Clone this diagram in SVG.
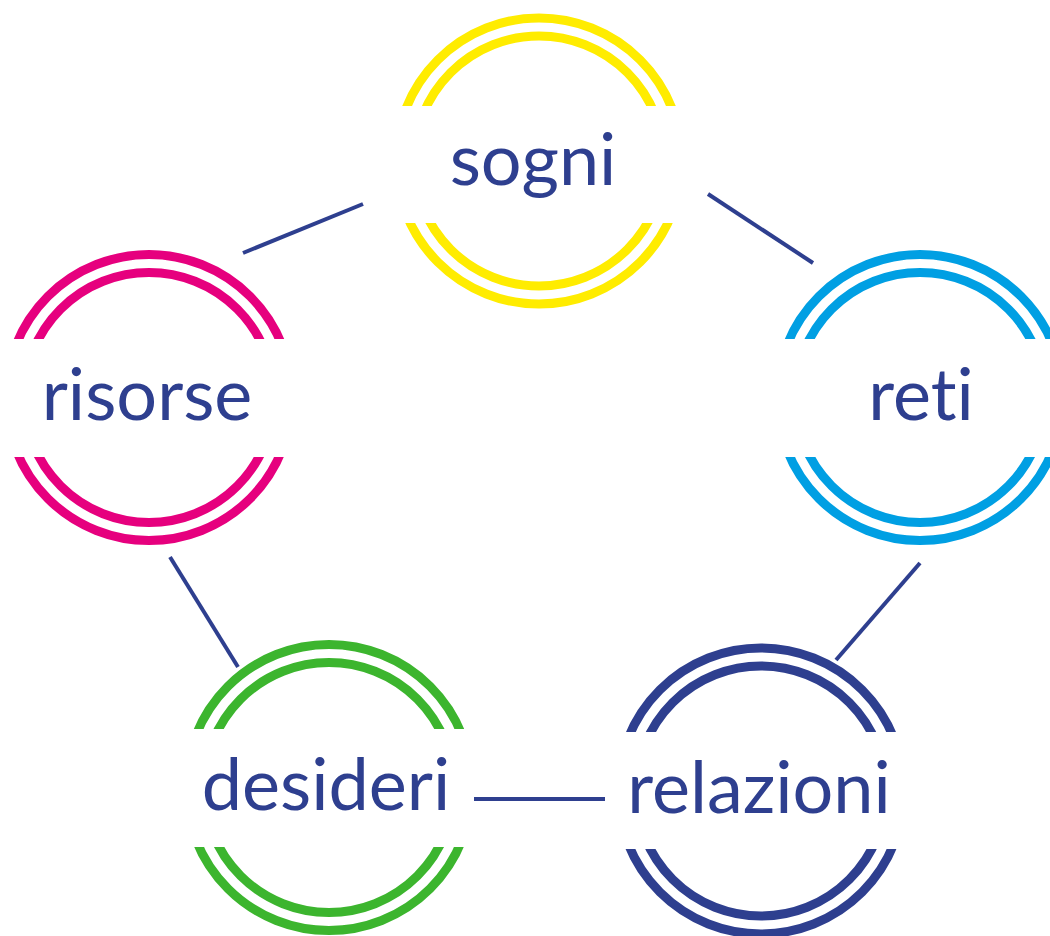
<svg xmlns="http://www.w3.org/2000/svg" width="1050" height="936" viewBox="0 0 1050 936">
<style>
.ring{fill:none;stroke-width:9}
.cut{fill:#ffffff}
.lbl{font-family:Lato,"Liberation Sans",sans-serif;font-size:72px;fill:#2e3f8f;text-anchor:middle;font-variant-ligatures:none;font-feature-settings:"liga" 0}
.conn line{stroke:#2e3f8f;stroke-width:4;stroke-linecap:butt}
</style>
<rect width="1050" height="936" fill="#ffffff"/>
<g id="sogni">
<circle class="ring" cx="539" cy="161" r="143" stroke="#ffec00"/>
<circle class="ring" cx="539" cy="161" r="125" stroke="#ffec00"/>
<rect class="cut" x="385" y="106" width="308" height="117"/>
<text class="lbl" x="533" y="185">sogni</text>
</g>
<g id="risorse">
<circle class="ring" cx="149" cy="397.5" r="143" stroke="#e6007e"/>
<circle class="ring" cx="149" cy="397.5" r="125" stroke="#e6007e"/>
<rect class="cut" x="0" y="339" width="300" height="118"/>
<text class="lbl" x="147" y="420">risorse</text>
</g>
<g id="reti">
<circle class="ring" cx="920" cy="397.5" r="143" stroke="#009fe3"/>
<circle class="ring" cx="920" cy="397.5" r="125" stroke="#009fe3"/>
<rect class="cut" x="770" y="339" width="280" height="118"/>
<text class="lbl" x="921" y="420">reti</text>
</g>
<g id="desideri">
<circle class="ring" cx="329" cy="787.5" r="143" stroke="#3cb52e"/>
<circle class="ring" cx="329" cy="787.5" r="125" stroke="#3cb52e"/>
<rect class="cut" x="179" y="729" width="300" height="118"/>
<text class="lbl" x="326" y="810">desideri</text>
</g>
<g id="relazioni">
<circle class="ring" cx="761" cy="791" r="143" stroke="#2e3f8f"/>
<circle class="ring" cx="761" cy="791" r="125" stroke="#2e3f8f"/>
<rect class="cut" x="611" y="732" width="300" height="117"/>
<text class="lbl" x="759" y="813">relazioni</text>
</g>
<g id="connectors" class="conn">
<line x1="243" y1="253" x2="363" y2="204"/>
<line x1="708" y1="194" x2="813" y2="263"/>
<line x1="170" y1="557" x2="238" y2="667"/>
<line x1="920" y1="563" x2="836" y2="660"/>
<line x1="474" y1="799" x2="605" y2="799"/>
</g>
</svg>
